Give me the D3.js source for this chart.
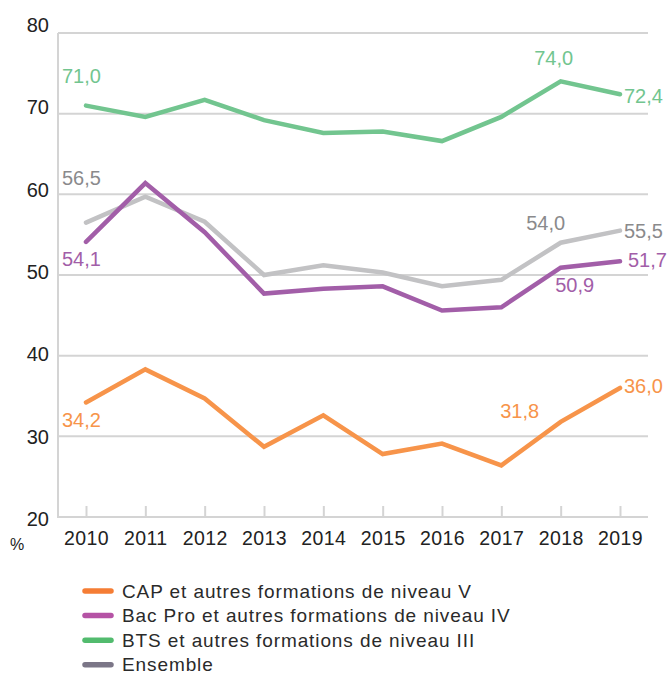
<!DOCTYPE html>
<html>
<head>
    <meta charset="utf-8">
    <title>Taux d'emploi par niveau de formation</title>
    <script src="https://cdnjs.cloudflare.com/ajax/libs/d3/7.8.5/d3.min.js"></script>
    <style>
        body {
            margin: 0;
            background: #fff;
            font-family: "Liberation Sans", Arial, sans-serif;
        }
        svg text { font-family: "Liberation Sans", Arial, sans-serif; }
    </style>
</head>
<body>
    <svg id="chart" width="668" height="673"></svg>

    <script>
        // Données
        const years = ["2010", "2011", "2012", "2013", "2014", "2015", "2016", "2017", "2018", "2019"];
        const yTicks = [20, 30, 40, 50, 60, 70, 80];

        const cap     = [34.2, 38.3, 34.7, 28.7, 32.6, 27.8, 29.1, 26.4, 31.8, 36.0];
        const bacPro  = [54.1, 61.4, 55.3, 47.7, 48.3, 48.6, 45.6, 46.0, 50.9, 51.7];
        const bts     = [71.0, 69.6, 71.7, 69.2, 67.6, 67.8, 66.6, 69.6, 74.0, 72.4];
        const ensemble = [56.5, 59.7, 56.6, 50.0, 51.2, 50.3, 48.6, 49.4, 54.0, 55.5];

        const seriesNames = [
            "CAP et autres formations de niveau V",
            "Bac Pro et autres formations de niveau IV",
            "BTS et autres formations de niveau III",
            "Ensemble"
        ];
        // années étiquetées sur chaque courbe
        const labelledYears = ["2010", "2018", "2019"];

        // Styles
        const lineColors   = ["#f7944a", "#a25ea8", "#72c58f", "#c2c2c4"];
        const legendColors = ["#f57d35", "#b553a5", "#52bb6e", "#7b7687"];
        const labelColors  = ["#f7944a", "#a25ea8", "#72c58f", "#8a8a8c"];

        // décalages des étiquettes [dx, dy, ancre] pour 2010, 2018, 2019
        const labelOffsets = [
            [[-24, 25, "start"], [-41, -4, "middle"], [4, 5, "start"]],
            [[-24, 24, "start"], [14, 24, "middle"], [8, 6, "start"]],
            [[-24, -23, "start"], [-7, -16, "middle"], [4, 9, "start"]],
            [[-24, -38, "start"], [-15, -13, "middle"], [4, 7, "start"]]
        ];

        const allSeries = [cap, bacPro, bts, ensemble];
        // ordre de tracé : gris en dessous
        const drawOrder = [3, 1, 2, 0];

        const svg = d3.select("#chart");

        const x = d3.scalePoint().domain(years).range([86, 620]);
        const y = d3.scaleLinear().domain([20, 80]).range([517, 33]);
        // les libellés de l'axe vertical sont légèrement resserrés dans l'original
        const yLab = d3.scaleLinear().domain([20, 80]).range([519, 25]);

        const gridColor = "#d4d4d4";
        const plotLeft = 58, plotRight = 648;

        // Grille horizontale
        svg.append("g")
            .selectAll("line")
            .data(yTicks)
            .join("line")
            .attr("x1", plotLeft)
            .attr("x2", plotRight)
            .attr("y1", d => y(d))
            .attr("y2", d => y(d))
            .attr("stroke", gridColor)
            .attr("stroke-width", 2);

        // Axe vertical
        svg.append("line")
            .attr("x1", plotLeft).attr("x2", plotLeft)
            .attr("y1", y(80)).attr("y2", y(20) + 1)
            .attr("stroke", gridColor)
            .attr("stroke-width", 2);

        // Graduations de l'axe horizontal
        const xAxis = svg.append("g")
            .attr("transform", `translate(0,${y(20)})`)
            .call(d3.axisBottom(x).tickSize(-11).tickSizeOuter(0).tickPadding(14));
        xAxis.select(".domain").remove();
        xAxis.selectAll(".tick line")
            .attr("stroke", gridColor)
            .attr("stroke-width", 2);
        xAxis.selectAll(".tick text")
            .attr("fill", "#222")
            .attr("font-size", 19.5)
            .attr("letter-spacing", 0.4);

        // Libellés de l'axe vertical
        svg.append("g")
            .selectAll("text")
            .data(yTicks)
            .join("text")
            .attr("x", 49)
            .attr("y", d => yLab(d))
            .attr("dy", "0.35em")
            .attr("text-anchor", "end")
            .attr("fill", "#222")
            .attr("font-size", 20)
            .text(d => d);

        svg.append("text")
            .attr("x", 17)
            .attr("y", 550)
            .attr("text-anchor", "middle")
            .attr("fill", "#222")
            .attr("font-size", 16)
            .text("%");

        // Courbes
        const line = d3.line()
            .x((d, i) => x(years[i]))
            .y(d => y(d));

        drawOrder.forEach(k => {
            svg.append("path")
                .datum(allSeries[k])
                .attr("fill", "none")
                .attr("stroke", lineColors[k])
                .attr("stroke-width", 4.5)
                .attr("stroke-linejoin", "miter")
                .attr("stroke-linecap", "round")
                .attr("d", line);
        });

        // Étiquettes de valeurs
        const fmt = v => d3.format(".1f")(v).replace(".", ",");
        allSeries.forEach((values, k) => {
            labelledYears.forEach((yr, j) => {
                const i = years.indexOf(yr);
                const [dx, dy, anchor] = labelOffsets[k][j];
                svg.append("text")
                    .attr("x", x(yr) + dx)
                    .attr("y", y(values[i]) + dy)
                    .attr("text-anchor", anchor)
                    .attr("fill", labelColors[k])
                    .attr("font-size", 20)
                    .text(fmt(values[i]));
            });
        });

        // Légende
        const legend = svg.append("g")
            .selectAll("g")
            .data(seriesNames)
            .join("g")
            .attr("transform", (d, i) => `translate(0,${591 + i * 24.6})`);

        legend.append("line")
            .attr("x1", 85).attr("x2", 111)
            .attr("stroke", (d, i) => legendColors[i])
            .attr("stroke-width", 5.5)
            .attr("stroke-linecap", "round");

        legend.append("text")
            .attr("x", 122)
            .attr("dy", "0.35em")
            .attr("fill", "#2a2a2a")
            .attr("font-size", 19)
            .attr("letter-spacing", 0.9)
            .text(d => d);
    </script>
</body>
</html>
